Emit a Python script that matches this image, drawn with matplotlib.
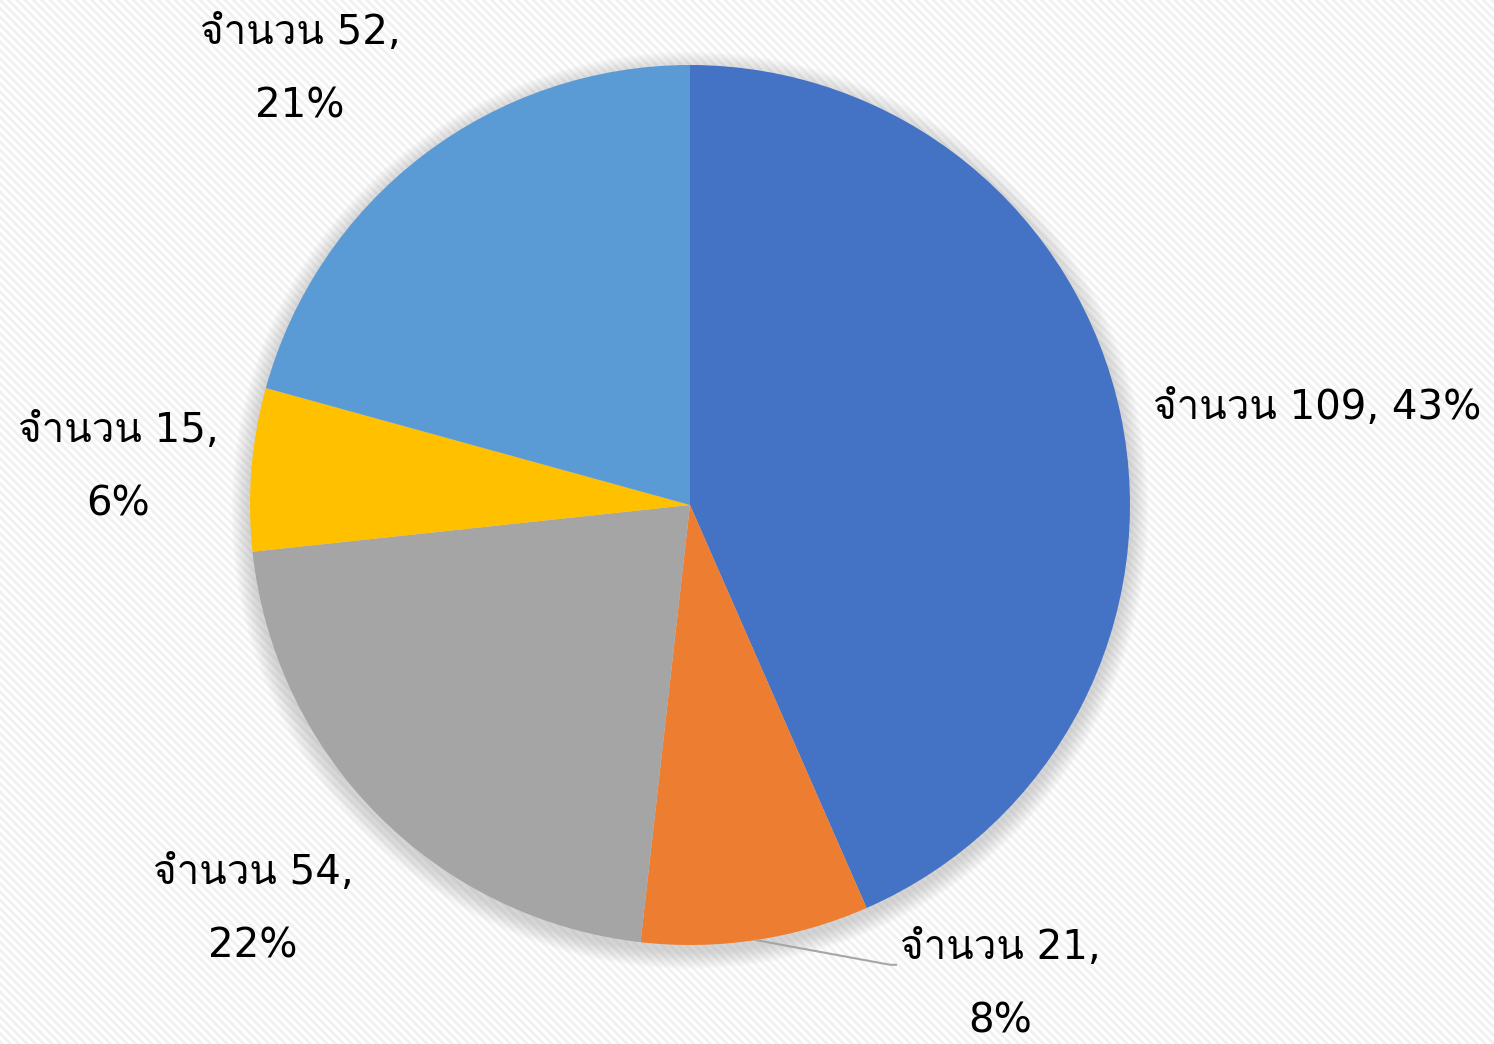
import numpy as np
import matplotlib.pyplot as plt
from matplotlib import font_manager
from matplotlib.ft2font import FT2Font
from matplotlib.patches import Circle, Rectangle

# данные
counts = [109, 21, 54, 15, 52]
percents = ['43%', '8%', '22%', '6%', '21%']
label_word = 'จำนวน'
colors = ['#4472C4', '#ED7D31', '#A5A5A5', '#FFC000', '#5B9BD5']


def find_thai_font():
    # ищем установленный шрифт с тайскими глифами
    for f in font_manager.fontManager.ttflist:
        try:
            if FT2Font(f.fname).get_char_index(ord('จ')):
                return f.name
        except Exception:
            pass
    return None


thai = find_thai_font()
families = ['DejaVu Sans'] + ([thai] if thai else [])
plt.rcParams['font.family'] = families
plt.rcParams['hatch.linewidth'] = 2.0

fig = plt.figure(figsize=(14.94, 10.44), dpi=100)
ax = fig.add_axes([0, 0, 1, 1])

# фон с диагональной штриховкой
bg = Rectangle((0, 0), 1, 1, transform=fig.transFigure, facecolor='white',
               edgecolor='#f1f1f1', hatch='\\\\\\\\', linewidth=0, zorder=-10)
fig.patches.append(bg)

# мягкая тень
for i in range(14):
    r = 1.0 + 0.042 * (1 - i / 14)
    ax.add_patch(Circle((0.0, -0.012), r, color='#9a9a9a', alpha=0.03, lw=0, zorder=0))

wedges, _ = ax.pie(counts, colors=colors, startangle=90, counterclock=False,
                   radius=1.0, center=(0, 0), frame=True,
                   wedgeprops=dict(linewidth=0))
for w in wedges:
    w.set_zorder(2)
ax.set_xlim(-690 / 440, 804 / 440)
ax.set_ylim(-539 / 440, 505 / 440)
ax.axis('off')

labels = [
    f'{label_word} {counts[0]}, {percents[0]}',
    f'{label_word} {counts[1]},\n{percents[1]}',
    f'{label_word} {counts[2]},\n{percents[2]}',
    f'{label_word} {counts[3]},\n{percents[3]}',
    f'{label_word} {counts[4]},\n{percents[4]}',
]
# позиции подписей (в радиусах)
label_pos = [(1.426, 0.22), (0.705, -1.091), (-0.993, -0.92), (-1.30, 0.084), (-0.886, 0.989)]

for lab, (x, y) in zip(labels, label_pos):
    ax.text(x, y, lab, ha='center', va='center', fontsize=29, linespacing=2.08, zorder=5)

# линия-выноска для 21
ang = np.deg2rad(90 - 360 * (counts[0] + counts[1] * 0.5) / sum(counts))
x0, y0 = np.cos(ang), np.sin(ang)
ax.plot([x0, 0.455, 0.468], [y0, -1.045, -1.045], color='#a6a6a6', lw=1.5, zorder=3)

fig.savefig('out.png', dpi=100)
